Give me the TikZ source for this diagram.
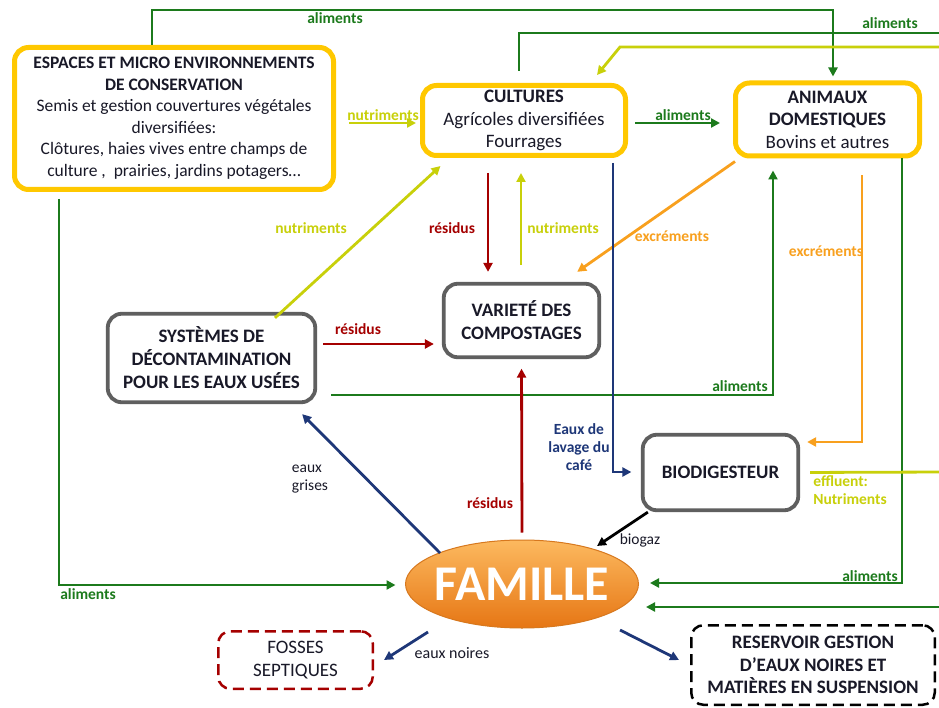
\documentclass[tikz,border=0pt]{standalone}
\usepackage{fontspec}
\setmainfont{Carlito}
\usetikzlibrary{arrows.meta,calc,shapes.geometric}
\definecolor{gold}{RGB}{255,200,0}
\definecolor{clime}{RGB}{200,208,10}
\definecolor{cgreen}{RGB}{28,122,28}
\definecolor{cred}{RGB}{165,0,0}
\definecolor{corange}{RGB}{248,160,30}
\definecolor{cnavy}{RGB}{30,55,120}
\definecolor{boxgray}{RGB}{95,95,95}
\definecolor{txt}{RGB}{25,25,40}
\definecolor{famtop}{RGB}{252,185,95}
\definecolor{fambot}{RGB}{230,118,20}
\definecolor{famline}{RGB}{215,120,30}
\begin{document}
\begin{tikzpicture}[x=1pt,y=-1pt,
  ybox/.style={draw=gold, line width=5pt, rounded corners=14pt, fill=white, align=center, inner sep=0pt, text=txt, font=\fontsize{17.5}{21.5}\selectfont},
  gbox/.style={draw=boxgray, line width=3.8pt, rounded corners=14pt, fill=white, align=center, inner sep=0pt, text=txt, font=\bfseries\fontsize{19}{23}\selectfont},
  dbox/.style={line width=2.5pt, dash pattern=on 11pt off 6pt, rounded corners=12pt, fill=white, align=center, inner sep=0pt, text=txt},
  conn/.style={line width=2.8pt},
  arr/.style={-{Triangle[length=9pt,width=9pt]}},
  lab/.style={font=\bfseries\fontsize{15.5}{18}\selectfont, inner sep=0pt},
  rlab/.style={font=\fontsize{15.5}{18}\selectfont, inner sep=0pt, text=txt},
  cg/.style={conn, draw=cgreen},
  cl/.style={conn, draw=clime},
  cr/.style={conn, draw=cred},
  co/.style={conn, draw=corange},
  cn/.style={conn, draw=cnavy},
]
\useasboundingbox (0,0) rectangle (939,708);
\fill[white] (0,0) rectangle (939,708);

% ---------- nodes ----------
\node[ybox, minimum width=319, minimum height=142] (esp) at (174,118.5)
 {\textbf{ESPACES ET MICRO ENVIRONNEMENTS}\\ \textbf{DE CONSERVATION}\\ Semis et gestion couvertures végétales\\ diversifiées:\\ Clôtures, haies vives entre champs de\\ culture ,\ \ prairies, jardins potagers…};
\node[ybox, minimum width=203, minimum height=70, font=\fontsize{19}{22.5}\selectfont] (cult) at (524,120.5)
 {\textbf{CULTURES}\\ Agrícoles diversifiées\\ Fourrages};
\node[ybox, minimum width=184, minimum height=73, font=\fontsize{19}{22.5}\selectfont] (anim) at (827.5,119.5)
 {\textbf{ANIMAUX}\\ \textbf{DOMESTIQUES}\\ Bovins et autres};
\node[gbox, minimum width=207.5, minimum height=88.5] (sys) at (211.5,358)
 {SYSTÈMES DE\\ DÉCONTAMINATION\\ POUR LES EAUX USÉES};
\node[gbox, minimum width=155.5, minimum height=73.5] (var) at (521.5,320.5)
 {VARIETÉ DES\\ COMPOSTAGES};
\node[gbox, minimum width=155.5, minimum height=75.5] (bio) at (720.5,472.5)
 {BIODIGESTEUR};
\node[ellipse, draw=famline, line width=1pt, top color=famtop, bottom color=fambot, minimum width=233, minimum height=88, inner xsep=-12pt, inner ysep=-10pt, text=white, font=\bfseries\fontsize{50}{54}\selectfont] (fam) at (522,584) {FAMILLE};
\node[dbox, draw=cred, minimum width=154.5, minimum height=57.5, font=\fontsize{19}{23}\selectfont] (fos) at (295.5,660)
 {FOSSES\\ SEPTIQUES};
\node[dbox, draw=black, minimum width=243.5, minimum height=79.5, font=\bfseries\fontsize{19}{22.5}\selectfont] (res) at (813,665)
 {RESERVOIR GESTION\\ D’EAUX NOIRES ET\\ MATIÈRES EN SUSPENSION};

% ---------- helper coordinates ----------
\coordinate (t1) at (152,10);
\coordinate (t2) at (833,10);
\coordinate (t3) at (519,33);
\coordinate (t4) at (945,33);
\coordinate (t5) at (945,47);
\coordinate (t6) at (620,47);
\coordinate (y123) at (0,123);
\coordinate (x488) at (488,0);
\coordinate (x521) at (521,0);
\coordinate (o1) at (862,442);
\coordinate (g1) at (773,395);
\coordinate (g2) at (902,583);
\coordinate (g4) at (945,607);
\coordinate (g5) at (59,585);
\coordinate (y344) at (0,344);
\coordinate (v1) at (613,472);
\coordinate (e1) at (945,472);

% ---------- connectors ----------
\draw[cg,arr,shorten >=4pt] (esp.north -| t1) -- (t1) -- (t2) -- (anim.north -| t2);
\draw[cg,shorten <=12pt] (cult.north -| t3) -- (t3) -- (t4);
\draw[cl,arr] (t5) -- (t6) -- ($(cult.north)+(73,-8)$);
\draw[cl,arr,shorten <=13pt,shorten >=4pt] (esp.east |- y123) -- (cult.west |- y123);
\draw[cg,arr,shorten <=7pt,shorten >=13pt] (cult.east |- y123) -- (anim.west |- y123);
\draw[cr,arr,shorten <=15pt,shorten >=10pt] (cult.south -| x488) -- (var.north -| x488);
\draw[cl,arr,shorten <=17pt,shorten >=15pt] (var.north -| x521) -- (cult.south -| x521);
\draw[cl,arr] ($(sys.north)+(63.5,6)$) -- ($(cult.south west)+(20.5,8)$);
\draw[co,arr] ($(anim.south west)+(2,3)$) -- ($(var.north east)+(-24,-10)$);
\draw[co,arr,shorten <=17pt] (anim.south -| o1) -- (o1) -- ($(bio.east |- o1)+(7,0)$);
\draw[cg,arr,shorten <=14pt,shorten >=12pt] (sys.east |- g1) -- (g1) -- (anim.south -| g1);
\draw[cg,arr,shorten >=11pt] (anim.south -| g2) -- (g2) -- ($(fam.east)+(0,-1)$);
\draw[cg,arr] (g4) -- ($(fam.east)+(7,23)$);
\draw[cg,arr,shorten <=7pt,shorten >=9.5pt] (esp.south -| g5) -- (g5) -- (fam.west |- g5);
\draw[cr,arr,shorten <=6pt,shorten >=8pt] (sys.east |- y344) -- (var.west |- y344);
\draw[cr,arr,shorten <=7pt,shorten >=9.5pt] (fam.north) -- (var.south);
\draw[cn,arr,shorten <=5pt,shorten >=9.5pt] (cult.south -| v1) -- (v1) -- (bio.west |- v1);
\draw[cn,arr] ($(fam.center)+(-82,-31)$) -- ($(sys.south east)+(-15,10)$);
\draw[conn,draw=black,arr] ($(bio.south west)+(7,0)$) -- ($(fam.center)+(75,-38)$);
\draw[cn,arr] ($(fam.center)+(-94,48)$) -- ($(fos.east)+(10,0)$);
\draw[cn,arr] ($(fam.center)+(98,46)$) -- ($(res.west)+(-11,-5)$);
\draw[cl,shorten <=10pt] (bio.east) -- (e1);

% ---------- labels ----------
\node[lab, text=cgreen] (l1) at (335,18) {aliments};
\node[lab, text=cgreen] (l2) at (890,23) {aliments};
\node[lab, text=clime] (l3) at (383,115) {nutriments};
\node[lab, text=cgreen] (l4) at (683,115) {aliments};
\node[lab, text=clime] (l5) at (311,228) {nutriments};
\node[lab, text=cred] (l6) at (452,228) {résidus};
\node[lab, text=clime] (l7) at (563,228) {nutriments};
\node[lab, text=corange] (l8) at (672,236) {excréments};
\node[lab, text=corange] (l9) at (826,251) {excréments};
\node[lab, text=cred] (l10) at (358,329) {résidus};
\node[lab, text=cgreen] (l11) at (740,386) {aliments};
\node[lab, text=cnavy, align=center] (l12) at (579,447) {Eaux de\\ lavage du\\ café};
\node[rlab, align=left] (l13) at (310,479) {eaux\\ grises};
\node[lab, text=cred] (l14) at (490,503) {résidus};
\node[lab, text=clime, align=left] (l15) at (850,490) {effluent:\\ Nutriments};
\node[rlab] (l16) at (640,540) {biogaz};
\node[lab, text=cgreen] (l17) at (870,576) {aliments};
\node[lab, text=cgreen] (l18) at (88,594) {aliments};
\node[rlab, font=\fontsize{16}{18}\selectfont] (l19) at (452,653) {eaux noires};
\end{tikzpicture}
\end{document}
